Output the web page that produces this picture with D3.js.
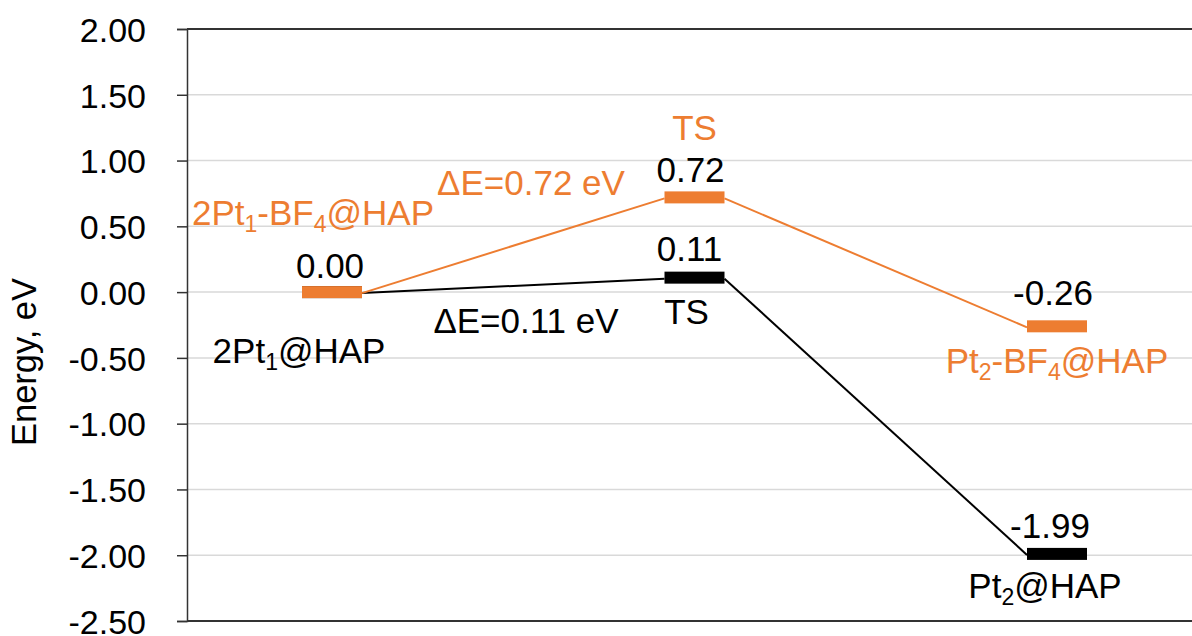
<!DOCTYPE html>
<html>
<head>
<meta charset="utf-8">
<script src="https://cdn.jsdelivr.net/npm/d3@7"></script>
<style>
  html, body { margin: 0; padding: 0; background: #fff; }
  svg { display: block; font-family: "Liberation Sans", Arial, sans-serif; }
</style>
</head>
<body>
<svg id="chart" width="1192" height="636"></svg>
<script>
// Reaction steps along the path
const steps = [0, 1, 2];
// Relative energies (eV) for the two pathways
const energyBare = [0.00, 0.11, -1.99];   // 2Pt1@HAP -> TS -> Pt2@HAP
const energyBF4  = [0.00, 0.72, -0.26];   // 2Pt1-BF4@HAP -> TS -> Pt2-BF4@HAP
// Y axis ticks
const yTicks = [2.0, 1.5, 1.0, 0.5, 0.0, -0.5, -1.0, -1.5, -2.0, -2.5];

const ORANGE = "#ED7D31";
const BLACK = "#000000";
const FONT = 35, SUB = 23;

const svg = d3.select("#chart");
const plotLeft = 187, plotRight = 1192, plotTop = 29, plotBottom = 621;

const y = d3.scaleLinear().domain([-2.5, 2.0]).range([plotBottom, plotTop]);
const x = d3.scaleLinear().domain([0, 2]).range([332, 1057]);
const halfW = 30, barH = 12;

// Gridlines
svg.append("g")
  .selectAll("line")
  .data(yTicks.filter(t => t !== 2.0 && t !== -2.5))
  .join("line")
  .attr("x1", plotLeft).attr("x2", plotRight)
  .attr("y1", d => y(d)).attr("y2", d => y(d))
  .attr("stroke", "#d9d9d9").attr("stroke-width", 1.5);

// Frame: top and bottom border
svg.append("line").attr("x1", plotLeft).attr("x2", plotRight)
  .attr("y1", y(2.0)).attr("y2", y(2.0))
  .attr("stroke", "#333").attr("stroke-width", 2);
svg.append("line").attr("x1", plotLeft).attr("x2", plotRight)
  .attr("y1", y(-2.5)).attr("y2", y(-2.5))
  .attr("stroke", "#333").attr("stroke-width", 2);

// Y axis (plain hyphen for negatives)
const fmt = d3.format(".2f");
const yAxis = d3.axisLeft(y).tickValues(yTicks)
  .tickFormat(d => fmt(d).replace("\u2212", "-"))
  .tickSize(10).tickPadding(31);
const gy = svg.append("g").attr("transform", `translate(${plotLeft},0)`).call(yAxis);
gy.select(".domain").attr("stroke", "#333").attr("stroke-width", 1.5);
gy.selectAll(".tick line").attr("stroke", "#333").attr("stroke-width", 1.5);
gy.selectAll(".tick text")
  .attr("font-size", 34).attr("fill", "#000")
  .attr("font-family", "Liberation Sans, Arial, sans-serif")
  .attr("dy", "0.36em");

// Axis title
svg.append("text")
  .attr("transform", `translate(36,362) rotate(-90)`)
  .attr("text-anchor", "middle")
  .attr("font-size", 34.5)
  .text("Energy, eV");

// Connectors between levels
function connectors(values, color) {
  const segs = d3.pairs(steps.map(i => ({ i, v: values[i] })));
  svg.append("g").selectAll("line").data(segs).join("line")
    .attr("x1", d => x(d[0].i) + halfW).attr("y1", d => y(d[0].v) + 1)
    .attr("x2", d => x(d[1].i) - halfW).attr("y2", d => y(d[1].v) + 1)
    .attr("stroke", color).attr("stroke-width", 2);
}
connectors(energyBare, BLACK);
connectors(energyBF4, ORANGE);

// Energy levels
function levels(values, color) {
  svg.append("g").selectAll("rect").data(steps).join("rect")
    .attr("x", i => x(i) - halfW).attr("width", halfW * 2)
    .attr("y", i => y(values[i]) - barH / 2).attr("height", barH)
    .attr("fill", color);
}
levels(energyBare, BLACK);
levels(energyBF4, ORANGE);

// Text helper supporting subscripts: parts = [[text, isSub], ...]
function label(px, py, parts, color, anchor = "middle") {
  const t = svg.append("text")
    .attr("x", px).attr("y", py)
    .attr("text-anchor", anchor)
    .attr("font-size", FONT)
    .attr("fill", color);
  parts.forEach(([s, sub]) => {
    const sp = t.append("tspan").text(s);
    if (sub) sp.attr("font-size", SUB).attr("baseline-shift", "-30%");
  });
  return t;
}

// Value labels
label(x(0) - 2, y(energyBF4[0]) - 14, [["0.00"]], BLACK);
label(x(1) - 4, y(energyBF4[1]) - 15, [["0.72"]], BLACK);
label(x(1) - 5, y(energyBare[1]) - 17, [["0.11"]], BLACK);
label(x(2) - 4, y(energyBF4[2]) - 21, [["-0.26"]], BLACK);
label(x(2) - 7, y(energyBare[2]) - 16, [["-1.99"]], BLACK);

// State names
label(x(0) - 19, y(energyBF4[0]) - 67, [["2Pt"], ["1", true], ["-BF"], ["4", true], ["@HAP"]], ORANGE);
label(x(0) - 33, y(energyBare[0]) + 71, [["2Pt"], ["1", true], ["@HAP"]], BLACK);
label(x(1), y(energyBF4[1]) - 57, [["TS"]], ORANGE);
label(x(1) - 8, y(energyBare[1]) + 46, [["TS"]], BLACK);
label(x(2), y(energyBF4[2]) + 47, [["Pt"], ["2", true], ["-BF"], ["4", true], ["@HAP"]], ORANGE);
label(x(2) - 12, y(energyBare[2]) + 44, [["Pt"], ["2", true], ["@HAP"]], BLACK);

// Barrier annotations
label(531, 195, [["\u0394E=0.72 eV"]], ORANGE);
label(526, 333, [["\u0394E=0.11 eV"]], BLACK);
</script>
</body>
</html>
